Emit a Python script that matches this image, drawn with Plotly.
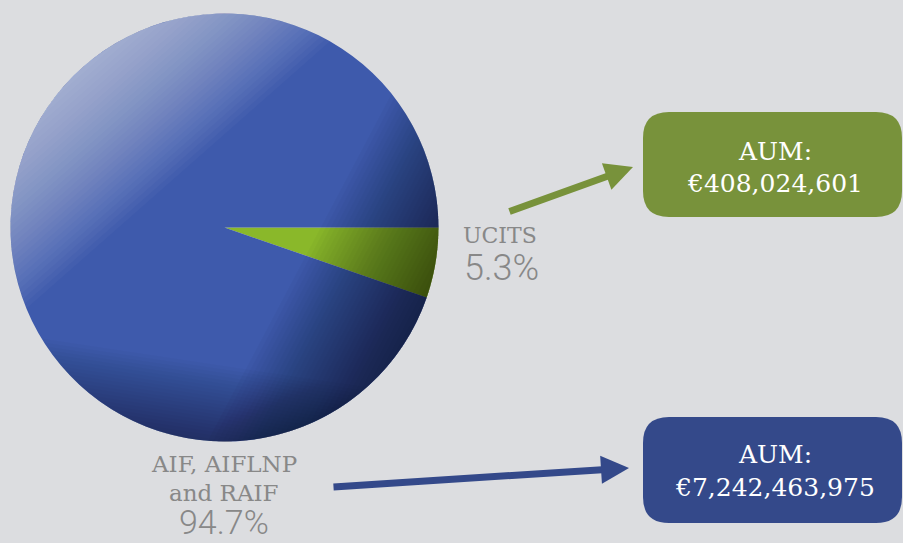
import numpy as np
import plotly.graph_objects as go

# ---- data ----
labels = ["UCITS", "AIF, AIFLNP and RAIF"]
shares = [5.3, 94.7]
share_text = ["5.3%", "94.7%"]
aum_text = ["€408,024,601", "€7,242,463,975"]
slice_colors = ["#8ab82a", "#3e5aac"]

W, H = 903, 543
BG = "#dcdde0"
GRAY = "#888888"
GREEN = "#78923b"
BLUE = "#34498a"


def px(x):
    return x / W


def py(y):
    return 1 - y / H


CX, CY, R = 224.5, 227.5, 214.0

fig = go.Figure()
fig.add_trace(go.Pie(
    labels=labels, values=shares, sort=False, direction="clockwise", rotation=90,
    marker=dict(colors=slice_colors, line=dict(width=0)),
    textinfo="none", hoverinfo="label+percent", showlegend=False,
    domain=dict(x=[px(CX - R), px(CX + R)], y=[py(CY + R), py(CY - R)]),
))


def segment(depth, ux, uy, n=120):
    """circular segment of the pie on side u, 'depth' pixels deep from the rim"""
    a0 = np.arctan2(uy, ux)
    half = np.arccos(max(min((R - depth) / R, 1.0), -1.0))
    t = np.linspace(a0 - half, a0 + half, n)
    xs = CX + R * np.cos(t)
    ys = CY + R * np.sin(t)
    pts = ["%.5f,%.5f" % (px(x), py(y)) for x, y in zip(xs, ys)]
    return "M" + " L".join(pts) + " Z"


shapes = []


def shade(ux, uy, step, count, color, op):
    u = np.array([ux, uy]); u = u / np.linalg.norm(u)
    for k in range(1, count + 1):
        shapes.append(dict(type="path", xref="paper", yref="paper", layer="above",
                           path=segment(step * k, u[0], u[1]),
                           fillcolor=color, opacity=op, line=dict(width=0)))


shade(-0.66, -0.75, 4.8, 30, "white", 0.027)   # light upper-left
shade(0.85, 0.45, 4.3, 30, "black", 0.025)     # dark right
shade(-0.15, 1.0, 3.5, 22, "black", 0.018)     # darker bottom


def rrect(x0, y0, x1, y1, r):
    rx, ry = r / W, r / H
    X0, X1, Y0, Y1 = px(x0), px(x1), py(y1), py(y0)
    return (f"M{X0+rx},{Y1} L{X1-rx},{Y1} Q{X1},{Y1} {X1},{Y1-ry} "
            f"L{X1},{Y0+ry} Q{X1},{Y0} {X1-rx},{Y0} L{X0+rx},{Y0} "
            f"Q{X0},{Y0} {X0},{Y0+ry} L{X0},{Y1-ry} Q{X0},{Y1} {X0+rx},{Y1} Z")


shapes.append(dict(type="path", xref="paper", yref="paper", path=rrect(643, 112, 902, 217, 26),
                   fillcolor=GREEN, line=dict(width=0), layer="above"))
shapes.append(dict(type="path", xref="paper", yref="paper", path=rrect(643, 417, 902, 523, 26),
                   fillcolor=BLUE, line=dict(width=0), layer="above"))

SERIF = "DejaVu Serif"
anns = []


def txt(x, y, s, size, color, family=SERIF, weight=None):
    f = dict(size=size, color=color, family=family)
    if weight:
        f["weight"] = weight
    anns.append(dict(x=px(x), y=py(y), xref="paper", yref="paper", text=s, showarrow=False,
                     xanchor="center", yanchor="middle", font=f))


txt(500, 235, labels[0], 22, GRAY)
txt(501, 268, share_text[0], 36, GRAY, family="Roboto", weight=300)
txt(224, 464, "AIF, AIFLNP", 23, GRAY)
txt(224, 493, "and RAIF", 23, GRAY)
txt(224, 522, share_text[1], 34, GRAY, family="Roboto", weight=300)

txt(775, 151, "AUM:", 25, "white")
txt(775, 183, aum_text[0], 25, "white")
txt(775, 454, "AUM:", 25, "white")
txt(775, 487, aum_text[1], 25, "white")

# arrows
for (tx, ty, sx, sy, col) in [(633, 167, 508, 212, GREEN), (629, 468, 332, 487, BLUE)]:
    anns.append(dict(x=px(tx), y=py(ty), xref="paper", yref="paper",
                     ax=sx - tx, ay=sy - ty, axref="pixel", ayref="pixel",
                     text="", showarrow=True, arrowhead=2, arrowsize=0.8,
                     arrowwidth=7, arrowcolor=col))

fig.update_layout(
    width=W, height=H, margin=dict(l=0, r=0, t=0, b=0),
    paper_bgcolor=BG, plot_bgcolor=BG,
    shapes=shapes, annotations=anns,
    xaxis=dict(visible=False), yaxis=dict(visible=False),
)
fig.write_html("out.html", config={"displayModeBar": False},
               post_script="document.body.style.margin='0';document.body.style.padding='0';"
                           "document.body.style.overflow='hidden';")
